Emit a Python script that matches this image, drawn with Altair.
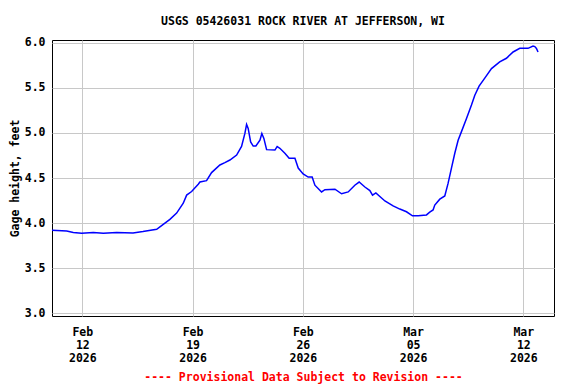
import altair as alt
import pandas as pd

times = [
    "2026-02-10T01:50", "2026-02-11T00:15", "2026-02-11T10:15", "2026-02-11T23:00",
    "2026-02-12T16:45", "2026-02-13T08:00", "2026-02-14T04:20", "2026-02-15T05:15",
    "2026-02-15T20:25", "2026-02-16T17:20", "2026-02-17T03:20", "2026-02-17T13:30",
    "2026-02-17T23:45", "2026-02-18T09:50", "2026-02-18T15:00", "2026-02-18T22:35",
    "2026-02-19T08:40", "2026-02-19T11:15", "2026-02-19T21:20", "2026-02-20T05:00",
    "2026-02-20T17:40", "2026-02-21T01:15", "2026-02-21T08:55", "2026-02-21T19:10",
    "2026-02-22T02:40", "2026-02-22T07:45", "2026-02-22T10:20", "2026-02-22T12:45",
    "2026-02-22T16:30", "2026-02-22T20:25", "2026-02-23T00:30", "2026-02-23T06:40",
    "2026-02-23T09:35", "2026-02-23T12:40", "2026-02-23T16:50", "2026-02-24T05:30",
    "2026-02-24T08:55", "2026-02-24T13:00", "2026-02-24T20:40", "2026-02-25T03:10",
    "2026-02-25T12:00", "2026-02-25T17:00", "2026-02-26T00:30", "2026-02-26T08:10",
    "2026-02-26T14:15", "2026-02-26T18:25", "2026-02-27T04:35", "2026-02-27T09:40",
    "2026-02-28T01:00", "2026-02-28T11:05", "2026-02-28T21:10", "2026-03-01T07:15",
    "2026-03-01T13:50", "2026-03-01T22:35", "2026-03-02T06:10", "2026-03-02T10:15",
    "2026-03-02T15:20", "2026-03-03T05:05", "2026-03-03T17:35", "2026-03-04T03:50",
    "2026-03-04T14:00", "2026-03-04T23:05", "2026-03-05T07:40", "2026-03-05T20:25",
    "2026-03-06T01:25", "2026-03-06T06:30", "2026-03-06T09:05", "2026-03-06T16:45",
    "2026-03-07T00:20", "2026-03-07T05:20", "2026-03-07T10:30", "2026-03-07T15:35",
    "2026-03-07T20:40", "2026-03-08T01:45", "2026-03-08T09:25", "2026-03-08T17:00",
    "2026-03-08T22:05", "2026-03-09T04:35", "2026-03-09T13:15", "2026-03-09T23:30",
    "2026-03-10T12:00", "2026-03-10T22:15", "2026-03-11T08:25", "2026-03-11T18:35",
    "2026-03-12T07:10", "2026-03-12T14:50", "2026-03-12T17:30", "2026-03-12T20:00",
    "2026-03-12T22:25",
]
gage_height = [
    3.92, 3.91, 3.895, 3.885,
    3.895, 3.885, 3.895, 3.89,
    3.905, 3.93, 3.985, 4.04,
    4.11, 4.22, 4.31, 4.35,
    4.43, 4.455, 4.47, 4.56,
    4.645, 4.67, 4.70, 4.755,
    4.85, 4.995, 5.095, 5.05,
    4.90, 4.855, 4.855, 4.92,
    4.995, 4.94, 4.815, 4.81,
    4.85, 4.83, 4.775, 4.72,
    4.72, 4.61, 4.545, 4.51,
    4.51, 4.42, 4.345, 4.37,
    4.375, 4.325, 4.345, 4.42,
    4.455, 4.40, 4.36, 4.31,
    4.335, 4.245, 4.19, 4.155,
    4.125, 4.08, 4.08, 4.09,
    4.12, 4.145, 4.20, 4.265,
    4.30, 4.44, 4.61, 4.775,
    4.92, 5.015, 5.16, 5.31,
    5.42, 5.52, 5.61, 5.715,
    5.79, 5.83, 5.90, 5.94,
    5.94, 5.965, 5.96, 5.94,
    5.90,
]

x_domain = ["2026-02-10T01:50:00Z", "2026-03-13T22:45:00Z"]
y_domain = [2.967, 6.033]
y_ticks = [3.0, 3.5, 4.0, 4.5, 5.0, 5.5, 6.0]
x_ticks = [(2026, 2, 12), (2026, 2, 19), (2026, 2, 26), (2026, 3, 5), (2026, 3, 12)]

df = pd.DataFrame({"time": [t + ":00Z" for t in times], "height": gage_height})

FONT = "DejaVu Sans Mono"
FS = 11.5

chart = (
    alt.Chart(df)
    .mark_line(color="#0000ff", strokeWidth=1.5)
    .encode(
        x=alt.X(
            "time:T",
            scale=alt.Scale(type="utc", domain=x_domain, nice=False),
            axis=alt.Axis(
                values=[alt.DateTime(year=y, month=m, date=d, utc=True) for y, m, d in x_ticks],
                labelExpr="[utcFormat(datum.value,'%b'), utcFormat(datum.value,'%d'), utcFormat(datum.value,'%Y')]",
                title="---- Provisional Data Subject to Revision ----",
                titleColor="#ff0000",
                titlePadding=8,
                labelPadding=10,
                labelLineHeight=13,
                ticks=False,
                domain=False,
                grid=True,
                labelFlush=False,
                labelOverlap=False,
                labelFont=FONT, labelFontSize=FS, labelFontWeight="bold", labelColor="black",
                titleFont=FONT, titleFontSize=FS, titleFontWeight="bold",
                gridColor="#c8c8c8", gridWidth=1, gridOpacity=1,
            ),
        ),
        y=alt.Y(
            "height:Q",
            scale=alt.Scale(domain=y_domain, nice=False, zero=False),
            axis=alt.Axis(
                values=y_ticks,
                format=".1f",
                title="Gage height, feet",
                titlePadding=4,
                labelPadding=7,
                ticks=False,
                domain=False,
                grid=True,
                labelFont=FONT, labelFontSize=FS, labelFontWeight="bold", labelColor="black",
                titleFont=FONT, titleFontSize=FS, titleFontWeight="bold", titleColor="black",
                gridColor="#c8c8c8", gridWidth=1, gridOpacity=1,
            ),
        ),
    )
    .properties(
        width=502,
        height=276,
        background="white",
        autosize=alt.AutoSizeParams(type="none"),
        padding={"left": 44, "top": 32, "right": 10, "bottom": 68},
        title=alt.TitleParams(
            "USGS 05426031 ROCK RIVER AT JEFFERSON, WI",
            font=FONT, fontSize=FS, fontWeight="bold", color="black",
            anchor="middle", offset=9,
        ),
    )
    .configure_view(stroke="black", strokeWidth=1)
)

chart.save("out.html", embed_options={"renderer": "svg", "actions": False})
